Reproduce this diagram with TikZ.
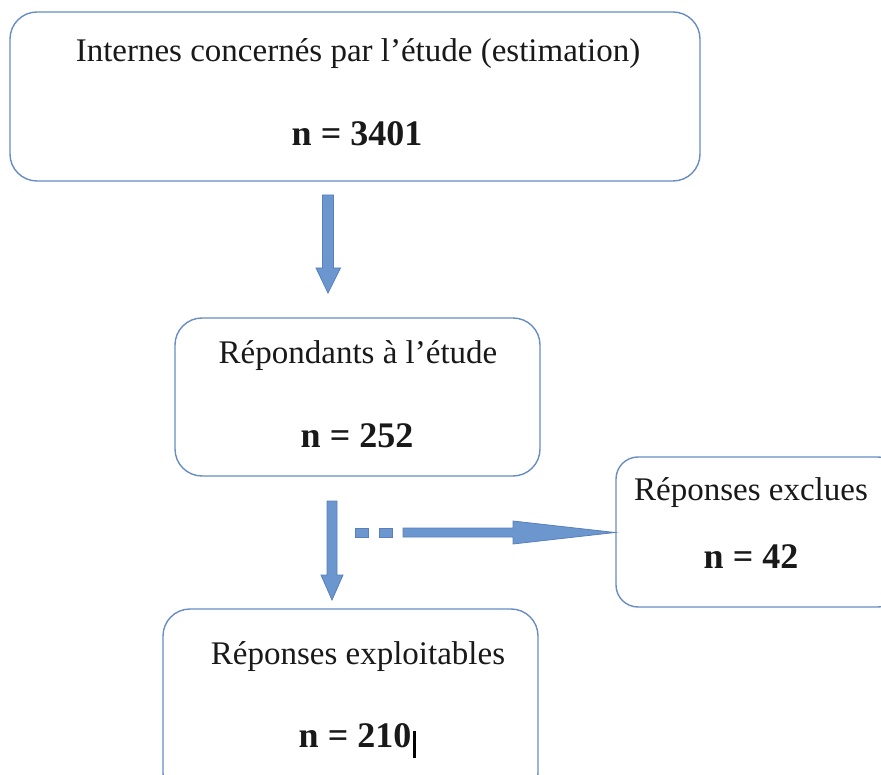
\documentclass[tikz,border=0pt]{standalone}
\usepackage{fontspec}
\setmainfont{Liberation Serif}
\definecolor{boxedge}{RGB}{104,140,196}
\definecolor{arrfill}{RGB}{108,150,206}
\definecolor{arredge}{RGB}{88,128,188}
\definecolor{txt}{RGB}{25,25,25}
\begin{document}
\begin{tikzpicture}[x=1pt,y=-1pt,
  box/.style={draw=boxedge, line width=1.4pt, rounded corners=27pt, fill=white},
  lbl/.style={anchor=base, text=txt, inner sep=0pt, font=\fontsize{33}{40}\selectfont},
  num/.style={anchor=base, text=txt, inner sep=0pt, font=\fontsize{36}{40}\selectfont\bfseries},
  blk/.style={fill=arrfill, draw=arredge, line width=0.8pt, line join=miter}]
\useasboundingbox (0,0) rectangle (881,775);
% boxes
\draw[box] (10,12) rectangle (700,181);
\draw[box] (175,318) rectangle (540,476);
\draw[box, rounded corners=22pt] (616,457) rectangle (900,607);
\draw[box] (163,609) rectangle (538,800);
% labels
\node[lbl] (t1) at (358,62) {Internes concernés par l’étude (estimation)};
\node[num] (n1) at (357,146) {n = 3401};
\node[lbl] (t2) at (358,364) {Répondants à l’étude};
\node[num] (n2) at (357,447) {n = 252};
\node[lbl] (t3) at (751,500) {Réponses exclues};
\node[num] (n3) at (751,568) {n = 42};
\node[lbl] (t4) at (358,664) {Réponses exploitables};
\node[num] (n4) at (355,747) {n = 210};
\draw[line width=3pt, black] ([xshift=3pt]n4.base east) ++(0,11) -- ++(0,-27);
% block arrows
\coordinate (a1) at (328,195);
\draw[blk] (a1) ++(-5.5,0) -- ++(11,0) -- ++(0,73) -- ++(7,0) -- (328,293) -- (316,268) -- (322.5,268) -- cycle;
\coordinate (a2) at (332,501);
\draw[blk] (a2) ++(-5,0) -- ++(10,0) -- ++(0,74) -- ++(6,0) -- (332,600) -- (321,575) -- (327,575) -- cycle;
% dashed horizontal arrow
\draw[blk] (355,528) rectangle (368,537);
\draw[blk] (379,528) rectangle (392,537);
\coordinate (tip) at (615,532.5);
\draw[blk] (403,528) -- (513,528) -- (513,521) -- (tip) -- (513,544) -- (513,537) -- (403,537) -- cycle;
\end{tikzpicture}
\end{document}
